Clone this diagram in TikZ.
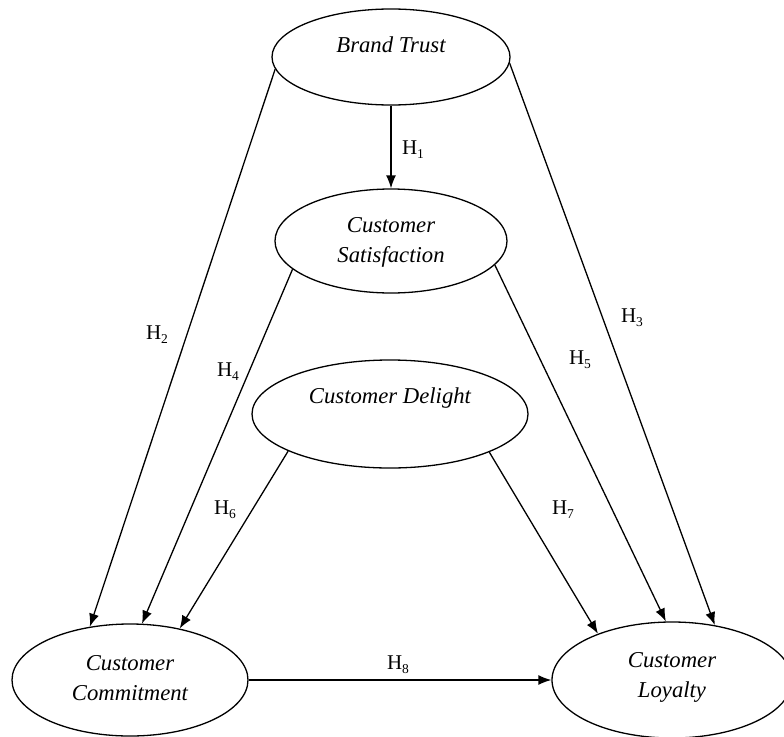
\documentclass[tikz,border=0pt]{standalone}
\usepackage{fontspec}
\setmainfont{Liberation Serif}
\usetikzlibrary{shapes.geometric,arrows.meta}
\tikzset{
  construct/.style={draw, ellipse, line width=1.3pt, inner sep=0pt},
  ctext/.style={font=\fontsize{22.7}{30}\selectfont\itshape, align=center, inner sep=0pt},
  hyp/.style={font=\fontsize{21}{22}\selectfont, inner sep=0pt},
  path/.style={line width=1.3pt, -{Latex[length=13pt,width=10pt]}}
}
\newcommand{\hlab}[1]{H\raisebox{-4pt}{\fontsize{13.5}{13.5}\selectfont #1}}
\begin{document}
\begin{tikzpicture}[x=1pt,y=-1pt]
\useasboundingbox (0,0) rectangle (784,736);
% ellipses
\node[construct, minimum width=238pt, minimum height=96pt] (bt) at (391,57) {};
\node[construct, minimum width=232pt, minimum height=104pt] (cs) at (391,241) {};
\node[construct, minimum width=276pt, minimum height=108pt] (cd) at (390,414) {};
\node[construct, minimum width=236pt, minimum height=112pt] (cc) at (130,680) {};
\node[construct, minimum width=240pt, minimum height=116pt] (cl) at (672,680) {};
% texts
\node[ctext] (btt) at (391,45) {Brand Trust};
\node[ctext] (cst) at (391,242) {Customer\\Satisfaction};
\node[ctext] (cdt) at (390,398) {Customer Delight};
\node[ctext] (cct) at (130,678) {Customer\\Commitment};
\node[ctext] (clt) at (672,677) {Customer\\Loyalty};
% paths
\draw[path] (bt.south) -- (cs.north);
\draw[path] (bt.186) -- (cc.127);
\draw[path] (bt.357) -- (cl.52);
\draw[path] (cs.196) -- (cc.78);
\draw[path] (cs.347) -- (cl.96);
\draw[path] (cd.200) -- (cc.46);
\draw[path] (cd.339) -- (cl.148);
\draw[path] (cc.east) -- (cl.west);
% hypothesis labels
\node[hyp] (h1) at (413,150) {\hlab{1}};
\node[hyp] (h2) at (157,335) {\hlab{2}};
\node[hyp] (h3) at (632,318) {\hlab{3}};
\node[hyp] (h4) at (228,372) {\hlab{4}};
\node[hyp] (h5) at (580,360) {\hlab{5}};
\node[hyp] (h6) at (225,510) {\hlab{6}};
\node[hyp] (h7) at (563,510) {\hlab{7}};
\node[hyp] (h8) at (398,665) {\hlab{8}};
\end{tikzpicture}
\end{document}
